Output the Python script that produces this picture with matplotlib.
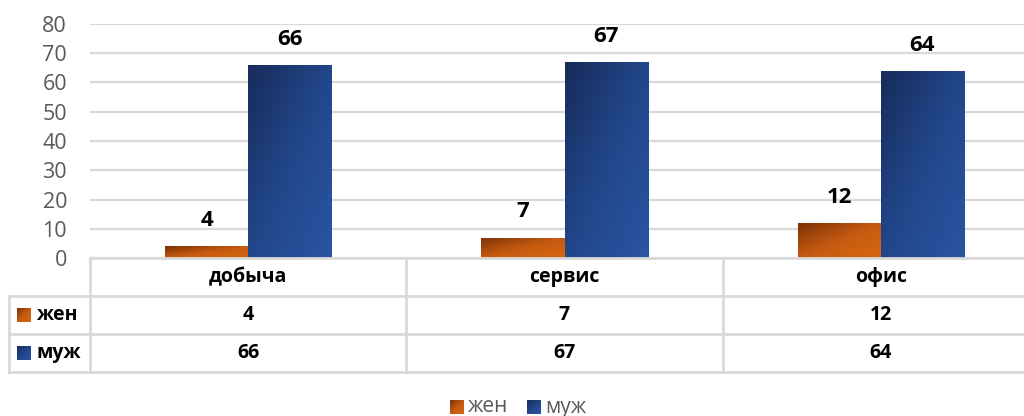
import numpy as np
import matplotlib
matplotlib.use("Agg")
import matplotlib.pyplot as plt
from matplotlib.colors import LinearSegmentedColormap
from matplotlib.patches import Rectangle

categories = ["добыча", "сервис", "офис"]
series_names = ["жен", "муж"]
women = [4, 7, 12]
men = [66, 67, 64]
y_ticks = [0, 10, 20, 30, 40, 50, 60, 70, 80]

plt.rcParams["font.family"] = ["Open Sans", "DejaVu Sans"]

W, H = 1024, 416
fig = plt.figure(figsize=(W / 100, H / 100), dpi=100)

# plot area in pixels (right side runs past the image edge like the original)
px_left, px_right = 90, 1039
px_top, px_bottom = 24, 258
col_w = (px_right - px_left) / len(categories)

ax = fig.add_axes([px_left / W, 1 - px_bottom / H,
                   (px_right - px_left) / W, (px_bottom - px_top) / H])

cmaps = [
    LinearSegmentedColormap.from_list("orange", ["#7a3106", "#c55a11", "#d8670f"]),
    LinearSegmentedColormap.from_list("blue", ["#172c5a", "#22468a", "#2a55a3"]),
]

grad = np.add.outer(np.linspace(0, 1, 60), np.linspace(0, 1, 60)) / 2
x = np.arange(len(categories))
bw = 0.263
for k, vals in enumerate([women, men]):
    offs = (k - 0.5) * bw
    bars = ax.bar(x + offs, vals, width=bw, color="none", zorder=3)
    for b, v in zip(bars, vals):
        im = ax.imshow(grad, cmap=cmaps[k], extent=[b.get_x(), b.get_x() + bw, 0, v],
                       aspect="auto", origin="upper", zorder=3)
        im.set_clip_path(b)
        ax.text(b.get_x() + bw / 2, v + 8.8, str(v), ha="center", va="center",
                fontsize=16, fontweight="bold", color="black")

ax.set_xlim(-0.5, len(categories) - 0.5)
ax.set_ylim(0, 80)
ax.set_yticks(y_ticks)
ax.set_xticks([])
ax.yaxis.grid(True, color="#d9d9d9", linewidth=1.6, zorder=0)
ax.set_axisbelow(True)
for s in ax.spines.values():
    s.set_visible(False)
ax.tick_params(axis="y", length=0, labelsize=15.5, labelcolor="#595959", pad=16.5)

# data table + legend drawn on a pixel overlay
ov = fig.add_axes([0, 0, 1, 1], facecolor="none")
ov.set_xlim(0, W)
ov.set_ylim(H, 0)
ov.axis("off")

line_kw = dict(color="#d9d9d9", linewidth=2, zorder=1)
row_y = [258, 296, 334, 372]
left_x = 9
ov.plot([px_left, W], [row_y[0], row_y[0]], **line_kw)
for yy in row_y[1:]:
    ov.plot([left_x, W], [yy, yy], **line_kw)
ov.plot([left_x, left_x], [row_y[1], row_y[3]], **line_kw)
for i in range(len(categories) + 1):
    xx = px_left + i * col_w
    ov.plot([xx, xx], [row_y[0], row_y[3]], **line_kw)

for i, cat in enumerate(categories):
    cx = px_left + (i + 0.5) * col_w
    ov.text(cx, (row_y[0] + row_y[1]) / 2, cat, ha="center", va="center",
            fontsize=14, fontweight="bold", color="black")
    for r, vals in enumerate([women, men]):
        ov.text(cx, (row_y[r + 1] + row_y[r + 2]) / 2, str(vals[i]), ha="center",
                va="center", fontsize=14, fontweight="bold", color="black")

for r, name in enumerate(series_names):
    yc = (row_y[r + 1] + row_y[r + 2]) / 2
    sq = Rectangle((17, yc - 7), 14, 14, facecolor="none", edgecolor="none")
    ov.add_patch(sq)
    im = ov.imshow(grad, cmap=cmaps[r], extent=[17, 31, yc + 7, yc - 7],
                   aspect="auto", origin="upper", zorder=2)
    im.set_clip_path(sq)
    ov.text(36, yc, name, ha="left", va="center", fontsize=14,
            fontweight="bold", color="black")

# legend at the bottom
leg_x = [450, 527]
for k, name in enumerate(series_names):
    sq = Rectangle((leg_x[k], 400), 14, 14, facecolor="none", edgecolor="none")
    ov.add_patch(sq)
    im = ov.imshow(grad, cmap=cmaps[k], extent=[leg_x[k], leg_x[k] + 14, 414, 400],
                   aspect="auto", origin="upper", zorder=2)
    im.set_clip_path(sq)
    ov.text(leg_x[k] + 18, 407, name, ha="left", va="center", fontsize=15,
            color="#595959")

ov.set_xlim(0, W)
ov.set_ylim(H, 0)

fig.savefig("out.png", dpi=100)
